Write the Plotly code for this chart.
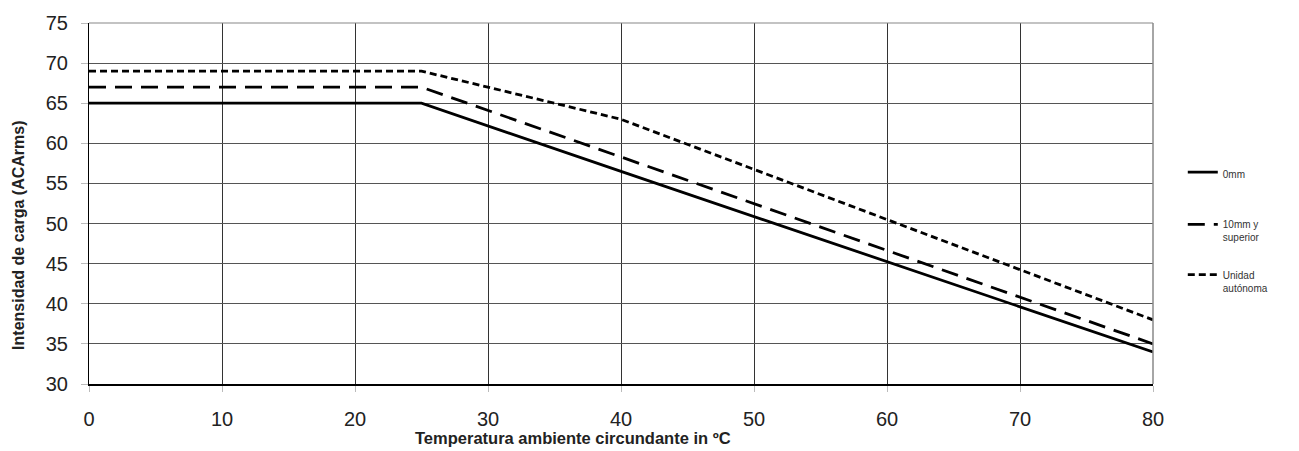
import plotly.graph_objects as go

temps = [0, 25, 40, 80]
s_0mm = [65, 65, 56.5, 34]
s_10mm = [67, 67, 58.3, 35]
s_unidad = [69, 69, 63, 38]
names = ["0mm", "10mm y<br>superior", "Unidad<br>autónoma"]
dashes = ["solid", "17px,9px", "7px,4px"]
x_ticks = [0, 10, 20, 30, 40, 50, 60, 70, 80]
y_ticks = [30, 35, 40, 45, 50, 55, 60, 65, 70, 75]

FONT = "Liberation Sans, Arial, sans-serif"
legend_ids = ["legend", "legend2", "legend3"]
legend_y = [0.623, 0.478, 0.339]

fig = go.Figure()
for vals, nm, d, lg in zip([s_0mm, s_10mm, s_unidad], names, dashes, legend_ids):
    fig.add_trace(go.Scatter(x=temps, y=vals, mode="lines", name=nm,
                             legend=lg,
                             line=dict(color="black", width=2.8, dash=d)))

legend_style = dict(x=1.028, xanchor="left", yanchor="top",
                    font=dict(size=10, color="#333", family=FONT),
                    valign="top", itemwidth=30, bgcolor="rgba(0,0,0,0)")

fig.update_layout(
    width=1299, height=451,
    margin=dict(l=89, r=146, t=18, b=67),
    paper_bgcolor="white", plot_bgcolor="white",
    font=dict(family=FONT, color="#222"),
    showlegend=True,
    legend=dict(y=legend_y[0], **legend_style),
    legend2=dict(y=legend_y[1], **legend_style),
    legend3=dict(y=legend_y[2], **legend_style),
    xaxis=dict(range=[0, 80], tickvals=x_ticks,
               showgrid=True, gridcolor="#333", gridwidth=1,
               showline=True, linecolor="#000", linewidth=1.5, mirror=False,
               ticks="outside", ticklen=6, tickcolor="#bbb",
               tickfont=dict(size=20, color="#222"), ticklabelstandoff=10,
               zeroline=False),
    yaxis=dict(range=[30, 75], tickvals=y_ticks,
               showgrid=True, gridcolor="#555", gridwidth=1,
               showline=True, linecolor="#000", linewidth=1.2, mirror=False,
               ticks="outside", ticklen=7, tickcolor="#bbb",
               tickfont=dict(size=20, color="#222"), ticklabelstandoff=9,
               zeroline=False),
    shapes=[
        dict(type="line", xref="paper", yref="paper", x0=0, x1=1, y0=1, y1=1,
             line=dict(color="#888", width=1.2)),
        dict(type="line", xref="paper", yref="paper", x0=1, x1=1, y0=0, y1=1,
             line=dict(color="#888", width=1.5)),
    ],
    annotations=[
        dict(text="<b>Temperatura ambiente circundante in ºC</b>",
             xref="paper", yref="paper", x=0.455, y=-0.15,
             xanchor="center", yanchor="middle", showarrow=False,
             font=dict(size=16.5, color="#222", family=FONT)),
        dict(text="<b>Intensidad de carga (ACArms)</b>",
             xref="paper", yref="paper", x=-0.0658, y=0.413, textangle=-90,
             xanchor="center", yanchor="middle", showarrow=False,
             font=dict(size=16, color="#222", family=FONT)),
    ],
)

fig.write_html("out.html")
